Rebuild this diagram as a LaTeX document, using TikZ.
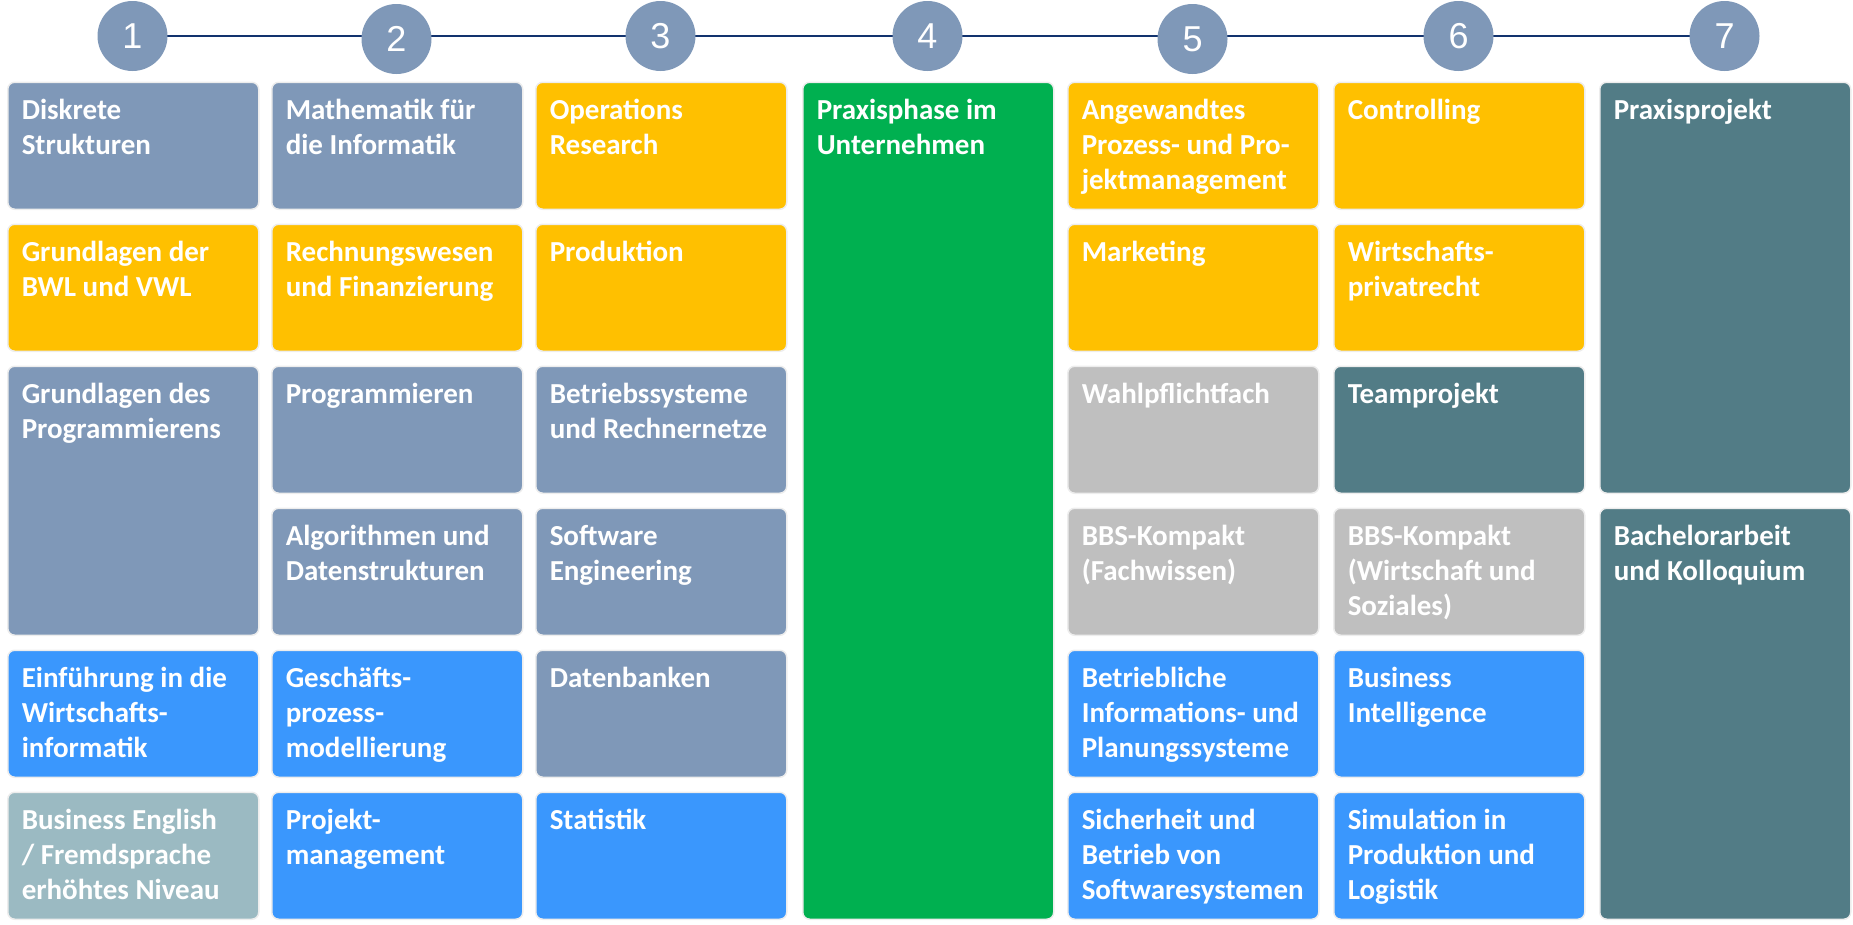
\documentclass[tikz,border=0pt]{standalone}
\usepackage{fontspec}
\setmainfont{Carlito}
\newfontfamily\numfont{Liberation Sans}
\usetikzlibrary{backgrounds}
\definecolor{gb}{HTML}{7F98B8}
\definecolor{yel}{HTML}{FFC000}
\definecolor{blu}{HTML}{3A97FD}
\definecolor{grn}{HTML}{00B050}
\definecolor{lgr}{HTML}{BFBFBF}
\definecolor{dteal}{HTML}{527C86}
\definecolor{lteal}{HTML}{9BBAC2}
\definecolor{navy}{HTML}{12336E}
\tikzset{
  modbox/.style={draw=black!7, line width=1.5pt, rounded corners=7pt, inner xsep=14pt, inner ysep=0pt,
    text=white, font=\bfseries\fontsize{29}{35}\selectfont, anchor=north west},
  numcirc/.style={circle, fill=gb, minimum size=70pt, inner sep=0pt, text=white,
    font=\numfont\fontsize{36}{36}\selectfont},
  timeline/.style={draw=navy, line width=2.3pt}
}
\newcommand\modbox[6]{\node[modbox, fill=#2] (#1) at (#3,#4) {\parbox[t][#5pt][t]{223pt}{\raggedright\rule{0pt}{37pt}#6}};}
\begin{document}
\begin{tikzpicture}[x=1pt,y=-1pt]
\useasboundingbox (0,0) rectangle (1853,924);
% semester circles
\node[numcirc] (c1) at (132.5,36) {1};
\node[numcirc] (c2) at (396.5,39) {2};
\node[numcirc] (c3) at (660.5,36) {3};
\node[numcirc] (c4) at (927.5,36) {4};
\node[numcirc] (c5) at (1192.5,39) {5};
\node[numcirc] (c6) at (1458.5,36) {6};
\node[numcirc] (c7) at (1724.5,36) {7};
\begin{pgfonlayer}{background}
\draw[timeline] (c1.center) -- (c7.center);
\end{pgfonlayer}
% column 1
\modbox{a1}{gb}{7}{81.5}{127}{Diskrete\\Strukturen}
\modbox{a2}{yel}{7}{223.5}{127}{Grundlagen der\\BWL und VWL}
\modbox{a3}{gb}{7}{365.5}{269}{Grundlagen des\\Programmierens}
\modbox{a5}{blu}{7}{649.5}{127}{Einführung in die\\Wirtschafts-\\informatik}
\modbox{a6}{lteal}{7}{791.5}{127}{Business English\\/ Fremdsprache\\erhöhtes Niveau}
% column 2
\modbox{b1}{gb}{271}{81.5}{127}{Mathematik für\\die Informatik}
\modbox{b2}{yel}{271}{223.5}{127}{Rechnungswesen\\und Finanzierung}
\modbox{b3}{gb}{271}{365.5}{127}{Programmieren}
\modbox{b4}{gb}{271}{507.5}{127}{Algorithmen und\\Datenstrukturen}
\modbox{b5}{blu}{271}{649.5}{127}{Geschäfts-\\prozess-\\modellierung}
\modbox{b6}{blu}{271}{791.5}{127}{Projekt-\\management}
% column 3
\modbox{d1}{yel}{535}{81.5}{127}{Operations\\Research}
\modbox{d2}{yel}{535}{223.5}{127}{Produktion}
\modbox{d3}{gb}{535}{365.5}{127}{Betriebssysteme\\und Rechnernetze}
\modbox{d4}{gb}{535}{507.5}{127}{Software\\Engineering}
\modbox{d5}{gb}{535}{649.5}{127}{Datenbanken}
\modbox{d6}{blu}{535}{791.5}{127}{Statistik}
% column 4
\modbox{e1}{grn}{802}{81.5}{837}{Praxisphase im\\Unternehmen}
% column 5
\modbox{f1}{yel}{1067}{81.5}{127}{Angewandtes\\Prozess- und Pro-\\jektmanagement}
\modbox{f2}{yel}{1067}{223.5}{127}{Marketing}
\modbox{f3}{lgr}{1067}{365.5}{127}{Wahlpflichtfach}
\modbox{f4}{lgr}{1067}{507.5}{127}{BBS-Kompakt\\(Fachwissen)}
\modbox{f5}{blu}{1067}{649.5}{127}{Betriebliche\\Informations- und\\Planungssysteme}
\modbox{f6}{blu}{1067}{791.5}{127}{Sicherheit und\\Betrieb von\\Softwaresystemen}
% column 6
\modbox{g1}{yel}{1333}{81.5}{127}{Controlling}
\modbox{g2}{yel}{1333}{223.5}{127}{Wirtschafts-\\privatrecht}
\modbox{g3}{dteal}{1333}{365.5}{127}{Teamprojekt}
\modbox{g4}{lgr}{1333}{507.5}{127}{BBS-Kompakt\\(Wirtschaft und\\Soziales)}
\modbox{g5}{blu}{1333}{649.5}{127}{Business\\Intelligence}
\modbox{g6}{blu}{1333}{791.5}{127}{Simulation in\\Produktion und\\Logistik}
% column 7
\modbox{h1}{dteal}{1599}{81.5}{411}{Praxisprojekt}
\modbox{h2}{dteal}{1599}{507.5}{411}{Bachelorarbeit\\und Kolloquium}
\end{tikzpicture}
\end{document}
